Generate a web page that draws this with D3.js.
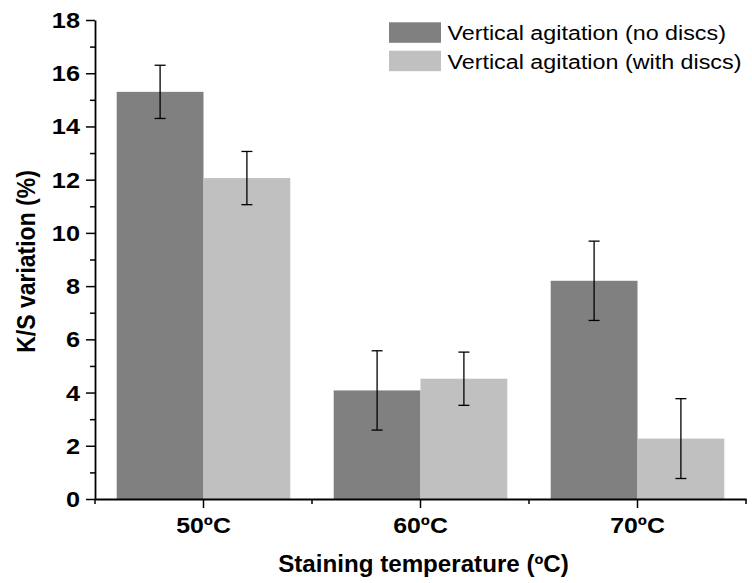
<!DOCTYPE html>
<html>
<head>
<meta charset="utf-8">
<script src="https://cdn.jsdelivr.net/npm/d3@7"></script>
<style>
  html, body { margin: 0; padding: 0; background: #fff; }
  svg { display: block; }
  text { font-family: "Liberation Sans", Arial, sans-serif; fill: #000; }
</style>
</head>
<body>
<svg id="chart" width="752" height="583"></svg>
<script>
// ---- data ----
const categories = ["50ºC", "60ºC", "70ºC"];
const seriesNames = ["Vertical agitation (no discs)", "Vertical agitation (with discs)"];
const noDiscs = [15.3, 4.08, 8.2];
const noDiscsErr = [1.0, 1.49, 1.49];
const withDiscs = [12.06, 4.52, 2.27];
const withDiscsErr = [1.0, 1.0, 1.5];
const yMajorTicks = [0, 2, 4, 6, 8, 10, 12, 14, 16, 18];
const yMinorTicks = [1, 3, 5, 7, 9, 11, 13, 15, 17];
const xTitle = "Staining temperature (ºC)";
const yTitle = "K/S variation (%)";

const colors = ["#808080", "#c0c0c0"];
const seriesVals = [noDiscs, withDiscs];
const seriesErrs = [noDiscsErr, withDiscsErr];

const rows = [];
categories.forEach((c, i) => {
  seriesNames.forEach((s, j) => {
    rows.push({ cat: c, series: s, value: seriesVals[j][i], err: seriesErrs[j][i], color: colors[j] });
  });
});

// ---- layout ----
const L = 95, R = 746, T = 20, B = 499;
const svg = d3.select("#chart");

const x = d3.scaleBand().domain(categories).range([L, R]).padding(0);
const x1 = d3.scaleBand().domain(seriesNames)
  .range([x.bandwidth() * 0.1, x.bandwidth() * 0.9]).padding(0);
const y = d3.scaleLinear().domain([0, 18]).range([B, T]);

// bars
svg.append("g").selectAll("rect").data(rows).join("rect")
  .attr("x", d => x(d.cat) + x1(d.series))
  .attr("y", d => y(d.value))
  .attr("width", x1.bandwidth())
  .attr("height", d => y(0) - y(d.value))
  .attr("fill", d => d.color);

// error bars
const eb = svg.append("g").attr("stroke", "#000").attr("stroke-width", 1.3).attr("fill", "none");
rows.forEach(d => {
  const cx = x(d.cat) + x1(d.series) + x1.bandwidth() / 2;
  const y1 = y(d.value + d.err), y2 = y(d.value - d.err);
  eb.append("line").attr("x1", cx).attr("x2", cx).attr("y1", y1).attr("y2", y2);
  eb.append("line").attr("x1", cx - 5.5).attr("x2", cx + 5.5).attr("y1", y1).attr("y2", y1);
  eb.append("line").attr("x1", cx - 5.5).attr("x2", cx + 5.5).attr("y1", y2).attr("y2", y2);
});

// y axis
const yAxis = svg.append("g").attr("transform", `translate(${L},0)`)
  .call(d3.axisLeft(y).tickValues(yMajorTicks).tickSize(9).tickSizeOuter(0).tickPadding(6).tickFormat(d3.format("d")));
yAxis.select(".domain").attr("stroke-width", 1.8);
yAxis.selectAll(".tick line").attr("stroke-width", 1.5);
yAxis.selectAll(".tick text")
  .attr("x", 0).attr("dy", null)
  .attr("transform", "translate(-15,7.5) scale(1.15,1)")
  .style("font-size", "22px").style("font-weight", "bold").style("font-family", '"Liberation Sans", Arial, sans-serif');

const yMinor = svg.append("g").attr("transform", `translate(${L},0)`)
  .call(d3.axisLeft(y).tickValues(yMinorTicks).tickSize(5).tickSizeOuter(0).tickFormat(""));
yMinor.select(".domain").remove();
yMinor.selectAll(".tick line").attr("stroke-width", 1.5);

// x axis
const xAxis = svg.append("g").attr("transform", `translate(0,${B})`)
  .call(d3.axisBottom(x).tickSize(9).tickSizeOuter(0).tickPadding(9));
xAxis.select(".domain").attr("stroke-width", 1.8);
xAxis.selectAll(".tick line").attr("stroke-width", 1.5);
xAxis.selectAll(".tick text")
  .attr("y", 0).attr("dy", null)
  .attr("transform", "translate(0,34) scale(1.13,1)")
  .style("font-size", "22px").style("font-weight", "bold").style("font-family", '"Liberation Sans", Arial, sans-serif');

// x minor ticks at band edges
const edges = categories.map(c => x(c)).concat([x(categories[categories.length - 1]) + x.bandwidth()]);
svg.append("g").selectAll("line").data(edges).join("line")
  .attr("x1", d => d).attr("x2", d => d)
  .attr("y1", B).attr("y2", B + 5)
  .attr("stroke", "#000").attr("stroke-width", 1.5);

// axis titles
svg.append("text")
  .attr("transform", `translate(${(L + R) / 2 + 3},572) scale(1.05,1)`)
  .attr("text-anchor", "middle")
  .style("font-size", "23px").style("font-weight", "bold")
  .text(xTitle);

svg.append("text")
  .attr("transform", `translate(35,${(T + B) / 2 + 2}) rotate(-90) scale(1,1.1)`)
  .attr("text-anchor", "middle")
  .style("font-size", "23px").style("font-weight", "bold")
  .text(yTitle);

// legend
const lg = svg.append("g");
seriesNames.forEach((s, j) => {
  const yy = 22.3 + j * 28.4;
  lg.append("rect").attr("x", 389).attr("y", yy).attr("width", 52).attr("height", 20.5).attr("fill", colors[j]);
  lg.append("text")
    .attr("transform", `translate(447.5,${yy + 17.8}) scale(1.11,1)`)
    .style("font-size", "21px")
    .text(s);
});
</script>
</body>
</html>
